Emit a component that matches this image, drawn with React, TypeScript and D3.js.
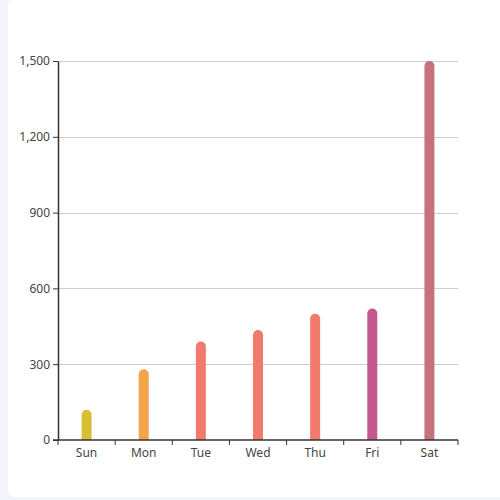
import { useEffect, useRef } from 'react';
import * as d3 from 'd3';

const days = ['Sun', 'Mon', 'Tue', 'Wed', 'Thu', 'Fri', 'Sat'];
const sales = [120, 280, 390, 435, 500, 520, 1500];
const barColors = ['#d9bf36', '#f5a34a', '#f17a6d', '#f17a6d', '#f17a6d', '#c4588f', '#c6717b'];
const yTicks = [0, 300, 600, 900, 1200, 1500];

const W = 500;
const H = 500;
const margin = { top: 60, right: 42, bottom: 60, left: 58 };

export default function App() {
    const svgRef = useRef<SVGSVGElement | null>(null);

    useEffect(() => {
        const svg = d3.select(svgRef.current);
        svg.selectAll('*').remove();

        const x = d3.scaleBand().domain(days).range([margin.left, W - margin.right]);
        const y = d3.scaleLinear().domain([0, 1500]).range([H - margin.bottom, margin.top + 1]);
        const font = '"Noto Sans", "DejaVu Sans", sans-serif';

        // grid
        svg.append('g')
            .selectAll('line')
            .data(yTicks.slice(1))
            .join('line')
            .attr('x1', margin.left)
            .attr('x2', W - margin.right)
            .attr('y1', (d) => Math.round(y(d)) + 0.5)
            .attr('y2', (d) => Math.round(y(d)) + 0.5)
            .attr('stroke', '#cccccc');

        // bars with rounded tops
        const bw = 10;
        const r = 5;
        svg.append('g')
            .selectAll('path')
            .data(sales)
            .join('path')
            .attr('fill', (d, i) => barColors[i])
            .attr('d', (d, i) => {
                const cx = (x(days[i]) || 0) + x.bandwidth() / 2;
                const x0 = cx - bw / 2;
                const top = y(d);
                const base = y(0);
                const p = d3.path();
                p.moveTo(x0, base);
                p.lineTo(x0, top + r);
                p.arc(cx, top + r, r, Math.PI, 0);
                p.lineTo(x0 + bw, base);
                p.closePath();
                return p.toString();
            });

        // y axis
        const yAxis = d3.axisLeft(y).tickValues(yTicks).tickFormat(d3.format(',')).tickSize(5).tickSizeOuter(0).tickPadding(3);
        const gy = svg.append('g').attr('transform', `translate(${margin.left},0)`).call(yAxis);
        gy.select('.domain').attr('stroke', '#333').attr('stroke-width', 1.5);
        gy.selectAll('.tick line').attr('stroke', '#333');
        gy.selectAll('.tick text').attr('fill', '#444').style('font-family', font).style('font-size', '12px');

        // x axis
        const base = y(0);
        const gx = svg.append('g');
        gx.append('line')
            .attr('x1', margin.left - 5)
            .attr('x2', W - margin.right)
            .attr('y1', base)
            .attr('y2', base)
            .attr('stroke', '#333')
            .attr('stroke-width', 1.5);
        const boundaries = days.map((d) => x(d) || 0).concat([W - margin.right]);
        gx.selectAll('line.tk')
            .data(boundaries)
            .join('line')
            .attr('class', 'tk')
            .attr('x1', (d) => d)
            .attr('x2', (d) => d)
            .attr('y1', base)
            .attr('y2', base + 5)
            .attr('stroke', '#333');
        gx.selectAll('text')
            .data(days)
            .join('text')
            .attr('x', (d) => (x(d) || 0) + x.bandwidth() / 2)
            .attr('y', base + 17)
            .attr('text-anchor', 'middle')
            .attr('fill', '#444')
            .style('font-family', font)
            .style('font-size', '12px')
            .text((d) => d);
    }, []);

    return (
        <div style={{ position: 'fixed', left: 0, top: 0, width: W, height: H, background: '#f4f5fa', overflow: 'hidden' }}>
            <div
                style={{
                    position: 'absolute',
                    left: 8,
                    top: 0,
                    width: 510,
                    height: 497,
                    background: '#ffffff',
                    borderRadius: 6,
                }}
            />
            <svg ref={svgRef} width={W} height={H} style={{ position: 'absolute', left: 0, top: 0 }} />
        </div>
    );
}
